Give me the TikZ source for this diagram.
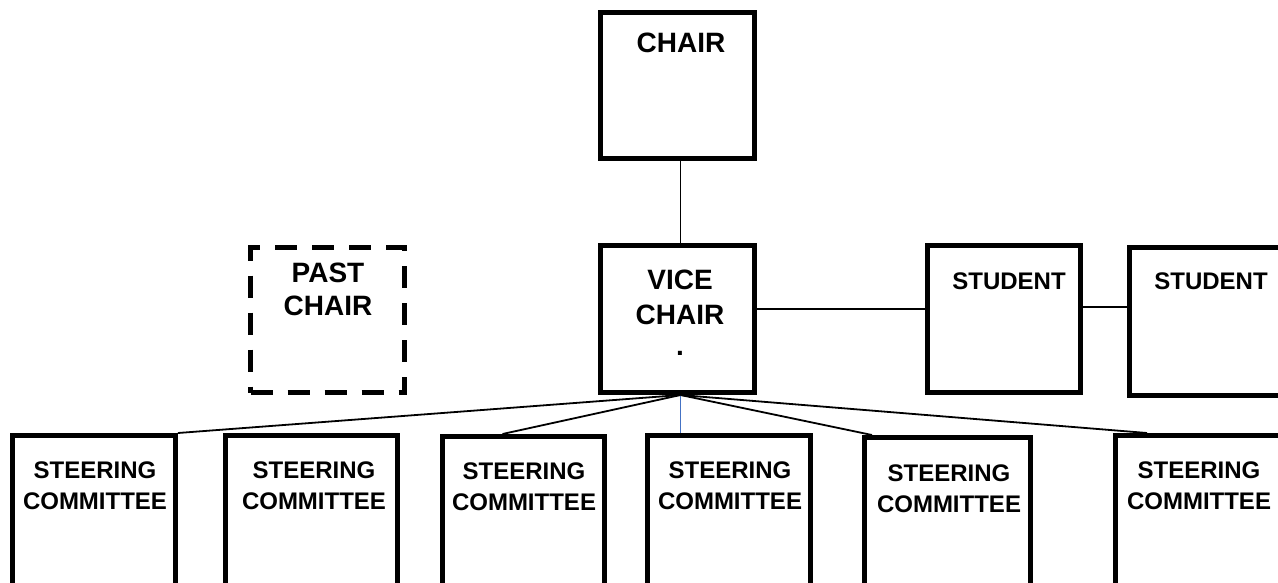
\documentclass[tikz,border=0pt]{standalone}
\usepackage{fontspec}
\setmainfont{Liberation Sans}
\usetikzlibrary{positioning, calc}
\definecolor{linkblue}{RGB}{68, 114, 196}

\begin{document}
\begin{tikzpicture}[
    x=1pt, y=-1pt,
    box/.style={rectangle, draw, line width=5pt, minimum width=154pt, minimum height=146pt, inner sep=0pt},
    dashbox/.style={box, dash pattern=on 22pt off 15pt},
    bigtext/.style={font=\fontsize{28}{34}\selectfont\bfseries, align=center, anchor=north, inner sep=0pt},
    midtext/.style={font=\fontsize{24}{30}\selectfont\bfseries, align=center, anchor=north, inner sep=0pt},
    steertext/.style={font=\fontsize{24}{31}\selectfont\bfseries, align=center, anchor=north, inner sep=0pt},
    link/.style={line width=1.8pt}
]
\useasboundingbox (0,0) rectangle (1278,582);

% Officers
\node[box] (chair) at (677.5, 85) {};
\node[bigtext] (chair_lbl) at (681, 33) {CHAIR};

\node[box, minimum height=147pt] (vice) at (677.5, 319) {};
\node[bigtext, font=\fontsize{28}{35}\selectfont\bfseries] (vice_lbl) at (680, 270) {VICE\\CHAIR\\[-4pt].};

\node[dashbox, minimum height=145pt] (past) at (327.5, 320) {};
\node[bigtext, font=\fontsize{28}{33}\selectfont\bfseries] (past_lbl) at (328, 263) {PAST\\CHAIR};

% Students
\node[box, minimum width=153pt, minimum height=147pt] (stud1) at (1004, 319) {};
\node[midtext] (stud1_lbl) at (1009, 273) {STUDENT};
\node[box, minimum width=153pt, minimum height=148pt] (stud2) at (1206, 321.5) {};
\node[midtext] (stud2_lbl) at (1211, 273) {STUDENT};

% Steering committees
\node[box, minimum width=163pt, minimum height=150pt] (steer1) at (94, 510.5) {};
\node[box, minimum width=172pt, minimum height=150pt] (steer2) at (311.5, 510.5) {};
\node[box, minimum width=162pt, minimum height=150pt] (steer3) at (523.5, 511.5) {};
\node[box, minimum width=163pt, minimum height=150pt] (steer4) at (729, 510.5) {};
\node[box, minimum width=166pt, minimum height=150pt] (steer5) at (947.5, 512.5) {};
\node[box, minimum width=172pt, minimum height=150pt] (steer6) at (1201.5, 510.5) {};

\node[steertext] (steer1_lbl) at (95, 462) {STEERING\\COMMITTEE};
\node[steertext] (steer2_lbl) at (314, 462) {STEERING\\COMMITTEE};
\node[steertext] (steer3_lbl) at (524, 463) {STEERING\\COMMITTEE};
\node[steertext] (steer4_lbl) at (730, 462) {STEERING\\COMMITTEE};
\node[steertext] (steer5_lbl) at (949, 465) {STEERING\\COMMITTEE};
\node[steertext] (steer6_lbl) at (1199, 462) {STEERING\\COMMITTEE};

% Links
\coordinate (hub) at ([xshift=3pt]vice.south);
\draw[link] ([xshift=3pt]chair.south) -- ([xshift=3pt]vice.north);
\draw[link] ([yshift=10pt]vice.east) -- ([yshift=10pt]vice.east -| stud1.west);
\draw[link] ([yshift=12pt]stud1.east) -- ([yshift=12pt]stud1.east -| stud2.west);

\draw[link] (hub) -- (steer1.north east);
\draw[link] (hub) -- ([xshift=-21pt]steer3.north);
\draw[link, linkblue] (hub) -- (hub |- steer4.north);
\draw[link] (hub) -- ([xshift=10pt]steer5.north west);
\draw[link] (hub) -- ([xshift=34pt]steer6.north west);

\end{tikzpicture}
\end{document}
